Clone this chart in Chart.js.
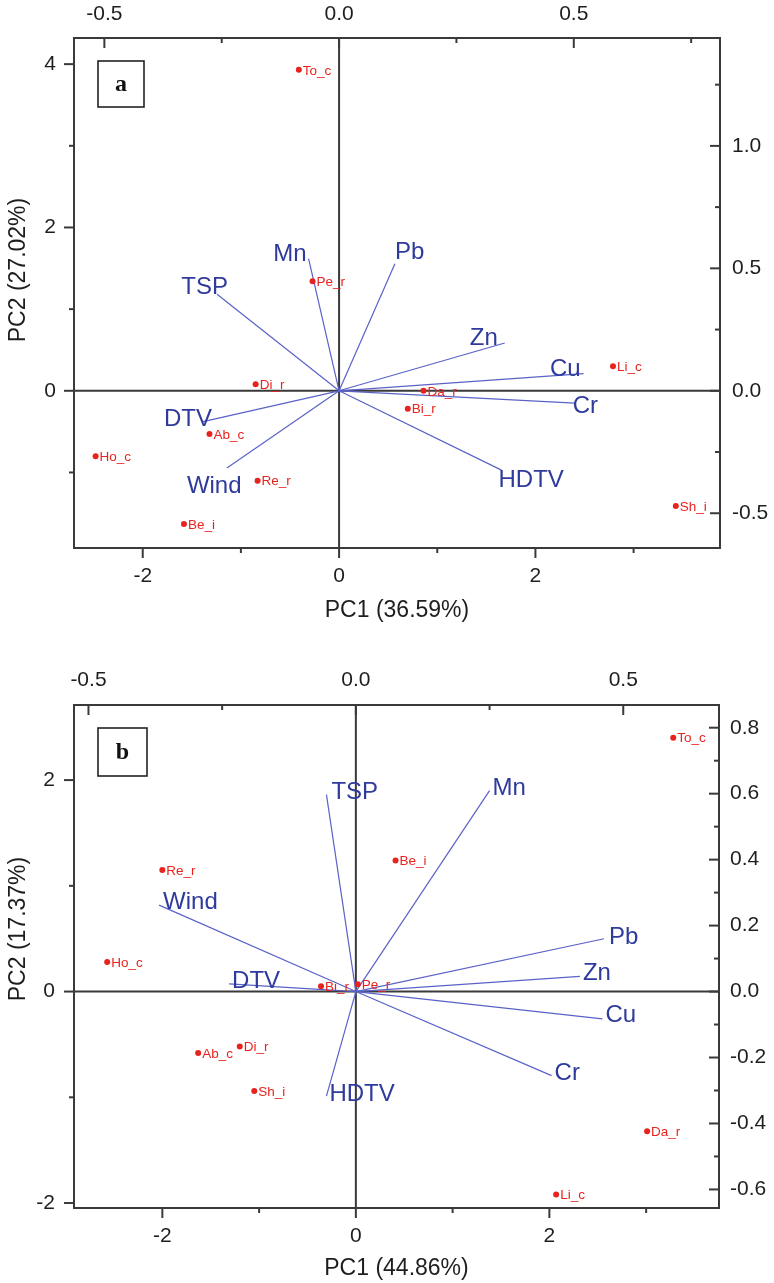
<!DOCTYPE html>
<html>
<head>
<meta charset="utf-8">
<script src="https://cdn.jsdelivr.net/npm/chart.js@4.4.1/dist/chart.umd.min.js"></script>
<style>
  body { margin: 0; background: #fff; width: 774px; height: 1283px; overflow: hidden; }
  .panel { position: absolute; left: 0; width: 774px; }
  #wrapA { top: 0; height: 640px; }
  #wrapB { top: 640px; height: 643px; }
</style>
</head>
<body>
<div class="panel" id="wrapA"><canvas id="chartA"></canvas></div>
<div class="panel" id="wrapB"><canvas id="chartB"></canvas></div>
<script>
// sampling sites and measured variables
const sites = ['To_c', 'Pe_r', 'Di_r', 'Ab_c', 'Ho_c', 'Re_r', 'Be_i', 'Da_r', 'Bi_r', 'Li_c', 'Sh_i'];
const variables = ['TSP', 'Mn', 'Pb', 'Zn', 'Cu', 'Cr', 'HDTV', 'DTV', 'Wind'];

// panel a: scores (bottom/left axes) and loadings (top/right axes)
const pc1ScoresA = [-0.41, -0.27, -0.85, -1.32, -2.48, -0.83, -1.58, 0.86, 0.70, 2.79, 3.43];
const pc2ScoresA = [3.93, 1.34, 0.08, -0.53, -0.80, -1.10, -1.63, 0.00, -0.22, 0.30, -1.41];
const pc1LoadA = [-0.260, -0.065, 0.119, 0.353, 0.521, 0.502, 0.346, -0.292, -0.239];
const pc2LoadA = [0.394, 0.540, 0.519, 0.195, 0.070, -0.050, -0.324, -0.127, -0.315];

// panel b
const pc1ScoresB = [3.28, 0.02, -1.20, -1.63, -2.57, -2.00, 0.41, 3.01, -0.36, 2.07, -1.05];
const pc2ScoresB = [2.40, 0.07, -0.52, -0.58, 0.28, 1.15, 1.24, -1.32, 0.05, -1.92, -0.94];
const pc1LoadB = [-0.055, 0.250, 0.464, 0.419, 0.461, 0.366, -0.055, -0.237, -0.368];
const pc2LoadB = [0.597, 0.609, 0.160, 0.046, -0.083, -0.255, -0.317, 0.023, 0.262];

// tick values
const scoreTicksA_x = [-2, 0, 2];
const scoreTicksA_y = [0, 2, 4];
const loadTicksA_x = [-0.5, 0.0, 0.5];
const loadTicksA_y = [-0.5, 0.0, 0.5, 1.0];
const scoreTicksB_x = [-2, 0, 2];
const scoreTicksB_y = [-2, 0, 2];
const loadTicksB_x = [-0.5, 0.0, 0.5];
const loadTicksB_y = [-0.6, -0.4, -0.2, 0.0, 0.2, 0.4, 0.6, 0.8];

const minorA = { x: [-1, 1, 3], y: [-1, 1, 3], x2: [-0.25, 0.25, 0.75], y2: [-0.25, 0.25, 0.75, 1.25] };
const minorB = { x: [-1, 1, 3], y: [-1, 1], x2: [-0.25, 0.25], y2: [-0.5, -0.3, -0.1, 0.1, 0.3, 0.5, 0.7] };

const FONT = '"Liberation Sans", Arial, sans-serif';
const AXIS = '#3a3a3a';
const TEXT = '#1e1e1e';
const RED = '#e8231e';
const LINE_BLUE = '#5a62c8';
const LABEL_BLUE = '#2e3a9c';

Chart.defaults.font.family = FONT;
Chart.defaults.color = TEXT;

// where each variable name sits relative to its loading tip
const placeA = {
  TSP: ['right', 11, 0], Mn: ['right', -2, 2], Pb: ['left', 0, -5], Zn: ['right', -7, 2],
  Cu: ['right', -3, 2], Cr: ['left', -2, 10], HDTV: ['left', -3, 17], DTV: ['right', 10, 4],
  Wind: ['left', -40, 25]
};
const placeB = {
  TSP: ['left', 5, 4], Mn: ['left', 3, 4], Pb: ['left', 5, 5], Zn: ['left', 3, 4],
  Cu: ['left', 3, 3], Cr: ['left', 3, 4], HDTV: ['left', 3, 5], DTV: ['left', 3, 4],
  Wind: ['left', 4, 4]
};

function decor(cfg) {
  return {
    id: 'decor',
    beforeDatasetsDraw(chart) {
      const { ctx, chartArea: a, scales } = chart;
      const x0 = scales.x.getPixelForValue(0);
      const y0 = scales.y.getPixelForValue(0);
      ctx.save();
      ctx.strokeStyle = AXIS;
      ctx.lineWidth = 2;
      ctx.beginPath();
      ctx.moveTo(a.left, y0); ctx.lineTo(a.right, y0);
      ctx.moveTo(x0, a.top); ctx.lineTo(x0, a.bottom);
      ctx.stroke();
      ctx.restore();
    },
    afterDraw(chart) {
      const { ctx, chartArea: a, scales } = chart;
      ctx.save();

      // tick marks: bottom/left point outwards, top/right point inwards
      ctx.strokeStyle = AXIS;
      ctx.lineWidth = 2;
      const mark = (id, v, len) => {
        const s = scales[id];
        const p = s.getPixelForValue(v);
        ctx.beginPath();
        if (id === 'x') { ctx.moveTo(p, a.bottom); ctx.lineTo(p, a.bottom + len); }
        if (id === 'x2') { ctx.moveTo(p, a.top); ctx.lineTo(p, a.top + len); }
        if (id === 'y') { ctx.moveTo(a.left - len, p); ctx.lineTo(a.left, p); }
        if (id === 'y2') { ctx.moveTo(a.right - len, p); ctx.lineTo(a.right, p); }
        ctx.stroke();
      };
      ['x', 'y', 'x2', 'y2'].forEach(id => {
        scales[id].ticks.forEach(t => mark(id, t.value, 10));
        cfg.minor[id].forEach(v => mark(id, v, 5));
      });

      // site names beside the score points
      ctx.fillStyle = RED;
      ctx.font = '13.5px ' + FONT;
      ctx.textAlign = 'left';
      ctx.textBaseline = 'middle';
      chart.getDatasetMeta(0).data.forEach((pt, i) => {
        ctx.fillText(sites[i], pt.x + 4, pt.y + 1);
      });

      // variable names at the loading tips
      ctx.fillStyle = LABEL_BLUE;
      ctx.font = '24px ' + FONT;
      ctx.textBaseline = 'alphabetic';
      variables.forEach((name, i) => {
        const tip = chart.getDatasetMeta(i + 1).data[1];
        const [align, dx, dy] = cfg.place[name];
        ctx.textAlign = align;
        ctx.fillText(name, tip.x + dx, tip.y + dy);
      });

      // panel letter box
      const bx = a.left + 24, by = a.top + 23;
      ctx.strokeStyle = '#222';
      ctx.lineWidth = 1.6;
      ctx.strokeRect(bx, by, cfg.box[0], cfg.box[1]);
      ctx.fillStyle = '#111';
      ctx.font = 'bold 24px "Liberation Serif", "DejaVu Serif", serif';
      ctx.textAlign = 'center';
      ctx.textBaseline = 'middle';
      ctx.fillText(cfg.letter, bx + cfg.box[0] / 2, by + cfg.box[1] / 2 + 1);

      // vertical axis title
      ctx.translate(19, cfg.yTitleY);
      ctx.rotate(-Math.PI / 2);
      ctx.fillStyle = TEXT;
      ctx.font = '23px ' + FONT;
      ctx.fillText(cfg.yTitle, 0, 0);
      ctx.restore();
    }
  };
}

function fixedTicks(values) {
  return s => { s.ticks = values.map(v => ({ value: v })); };
}

function axis(position, range, ticks, size, pad, fmt, extra) {
  const horizontal = position === 'top' || position === 'bottom';
  return Object.assign({
    type: 'linear',
    position: position,
    min: range[0],
    max: range[1],
    grid: { display: false, drawTicks: false },
    border: { display: true, color: AXIS, width: 2 },
    ticks: { padding: pad, font: { size: 21 }, color: TEXT, callback: fmt, autoSkip: false, maxRotation: 0 },
    afterBuildTicks: fixedTicks(ticks),
    afterFit: s => { if (horizontal) s.height = size; else s.width = size; }
  }, extra || {});
}

const intFmt = v => String(v);
const decFmt = v => Number(v).toFixed(1);

function buildChart(canvasId, p) {
  const datasets = [{
    data: p.s1.map((v, i) => ({ x: v, y: p.s2[i] })),
    xAxisID: 'x', yAxisID: 'y',
    pointRadius: 3, pointBackgroundColor: RED, pointBorderWidth: 0
  }];
  variables.forEach((name, i) => {
    datasets.push({
      data: [{ x: 0, y: 0 }, { x: p.l1[i], y: p.l2[i] }],
      xAxisID: 'x2', yAxisID: 'y2',
      showLine: true, borderColor: LINE_BLUE, borderWidth: 1.2, pointRadius: 0
    });
  });

  return new Chart(document.getElementById(canvasId), {
    type: 'scatter',
    data: { datasets },
    options: {
      responsive: true,
      maintainAspectRatio: false,
      animation: false,
      events: [],
      layout: { padding: 0 },
      plugins: { legend: { display: false }, tooltip: { enabled: false } },
      scales: {
        x: axis('bottom', p.xr, p.tx, p.sizes.bottom, p.pads.bottom, intFmt, {
          title: { display: true, text: p.xTitle, font: { size: 23 }, color: TEXT, padding: { top: 0, bottom: p.xTitlePad } }
        }),
        y: axis('left', p.yr, p.ty, p.sizes.left, p.pads.left, intFmt),
        x2: axis('top', [p.xr[0] * p.kx, p.xr[1] * p.kx], p.tx2, p.sizes.top, p.pads.top, decFmt),
        y2: axis('right', [p.yr[0] * p.ky, p.yr[1] * p.ky], p.ty2, p.sizes.right, p.pads.right, decFmt)
      }
    },
    plugins: [decor(p.decor)]
  });
}

buildChart('chartA', {
  s1: pc1ScoresA, s2: pc2ScoresA, l1: pc1LoadA, l2: pc2LoadA,
  xr: [-2.70, 3.88], yr: [-1.925, 4.32], kx: 98.3 / 470, ky: 81.7 / 245,
  tx: scoreTicksA_x, ty: scoreTicksA_y, tx2: loadTicksA_x, ty2: loadTicksA_y,
  sizes: { left: 74, right: 54, top: 38, bottom: 92 },
  pads: { left: 18, right: 12, top: 11, bottom: 16 },
  xTitle: 'PC1 (36.59%)', xTitlePad: 16,
  decor: { minor: minorA, place: placeA, letter: 'a', box: [46, 46], yTitle: 'PC2 (27.02%)', yTitleY: 270 }
});

buildChart('chartB', {
  s1: pc1ScoresB, s2: pc2ScoresB, l1: pc1LoadB, l2: pc2LoadB,
  xr: [-2.913, 3.753], yr: [-2.047, 2.71], kx: 96.8 / 535, ky: 105.8 / 330,
  tx: scoreTicksB_x, ty: scoreTicksB_y, tx2: loadTicksB_x, ty2: loadTicksB_y,
  sizes: { left: 74, right: 55, top: 65, bottom: 75 },
  pads: { left: 19, right: 11, top: 12, bottom: 16 },
  xTitle: 'PC1 (44.86%)', xTitlePad: 1,
  decor: { minor: minorB, place: placeB, letter: 'b', box: [49, 48], yTitle: 'PC2 (17.37%)', yTitleY: 289 }
});
</script>
</body>
</html>
